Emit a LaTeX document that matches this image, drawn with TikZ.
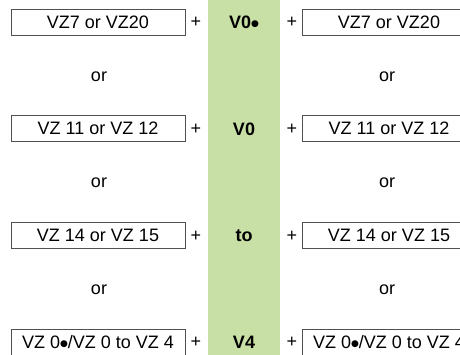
\documentclass[tikz,border=0pt]{standalone}
\usepackage{fontspec}
\setmainfont{Liberation Sans}
\newfontfamily\symfont{DejaVu Sans}
\definecolor{colgreen}{RGB}{200,224,166}
\definecolor{boxgray}{RGB}{80,80,80}
\newcommand{\blob}{\raisebox{1.5pt}{\symfont\fontsize{9}{9}\selectfont ●}}
\tikzset{
  vzbox/.style={draw=boxgray,line width=0.9pt,minimum width=174pt,minimum height=26pt,inner sep=0pt,font=\fontsize{18}{18}\selectfont},
  ortext/.style={font=\fontsize{18}{18}\selectfont},
  plus/.style={font=\fontsize{18}{18}\selectfont},
  vtext/.style={font=\fontsize{18}{18}\selectfont\bfseries}
}
\begin{document}
\begin{tikzpicture}[x=1pt,y=-1pt]
\useasboundingbox (0,0) rectangle (460,354);
\clip (0,0) rectangle (460,354);

% green column
\fill[colgreen] (208,-1) rectangle (280,356);

% left column
\node[vzbox] (l1) at (98,22) {VZ7 or VZ20};
\node[ortext] (lor1) at (99,77) {or};
\node[vzbox] (l2) at (98,128.5) {VZ 11 or VZ 12};
\node[ortext] (lor2) at (99,183) {or};
\node[vzbox] (l3) at (98,235.5) {VZ 14 or VZ 15};
\node[ortext] (lor3) at (99,290) {or};
\node[vzbox] (l4) at (98,342) {VZ 0\blob/VZ 0 to VZ 4};

% plus signs
\node[plus] (pl1) at (196,22) {+};
\node[plus] (pl2) at (196,129) {+};
\node[plus] (pl3) at (196,236) {+};
\node[plus] (pl4) at (196,342) {+};
\node[plus] (pr1) at (292,22) {+};
\node[plus] (pr2) at (292,129) {+};
\node[plus] (pr3) at (292,236) {+};
\node[plus] (pr4) at (292,342) {+};

% middle column
\node[vtext] (v1) at (244,22) {V0\blob};
\node[vtext] (v2) at (244,129) {V0};
\node[vtext] (v3) at (244,236) {to};
\node[vtext] (v4) at (244,342) {V4};

% right column
\node[vzbox] (r1) at (389,22) {VZ7 or VZ20};
\node[ortext] (ror1) at (387,77) {or};
\node[vzbox] (r2) at (389,128.5) {VZ 11 or VZ 12};
\node[ortext] (ror2) at (387,183) {or};
\node[vzbox] (r3) at (389,235.5) {VZ 14 or VZ 15};
\node[ortext] (ror3) at (387,290) {or};
\node[vzbox] (r4) at (389,342) {VZ 0\blob/VZ 0 to VZ 4};
\end{tikzpicture}
\end{document}
